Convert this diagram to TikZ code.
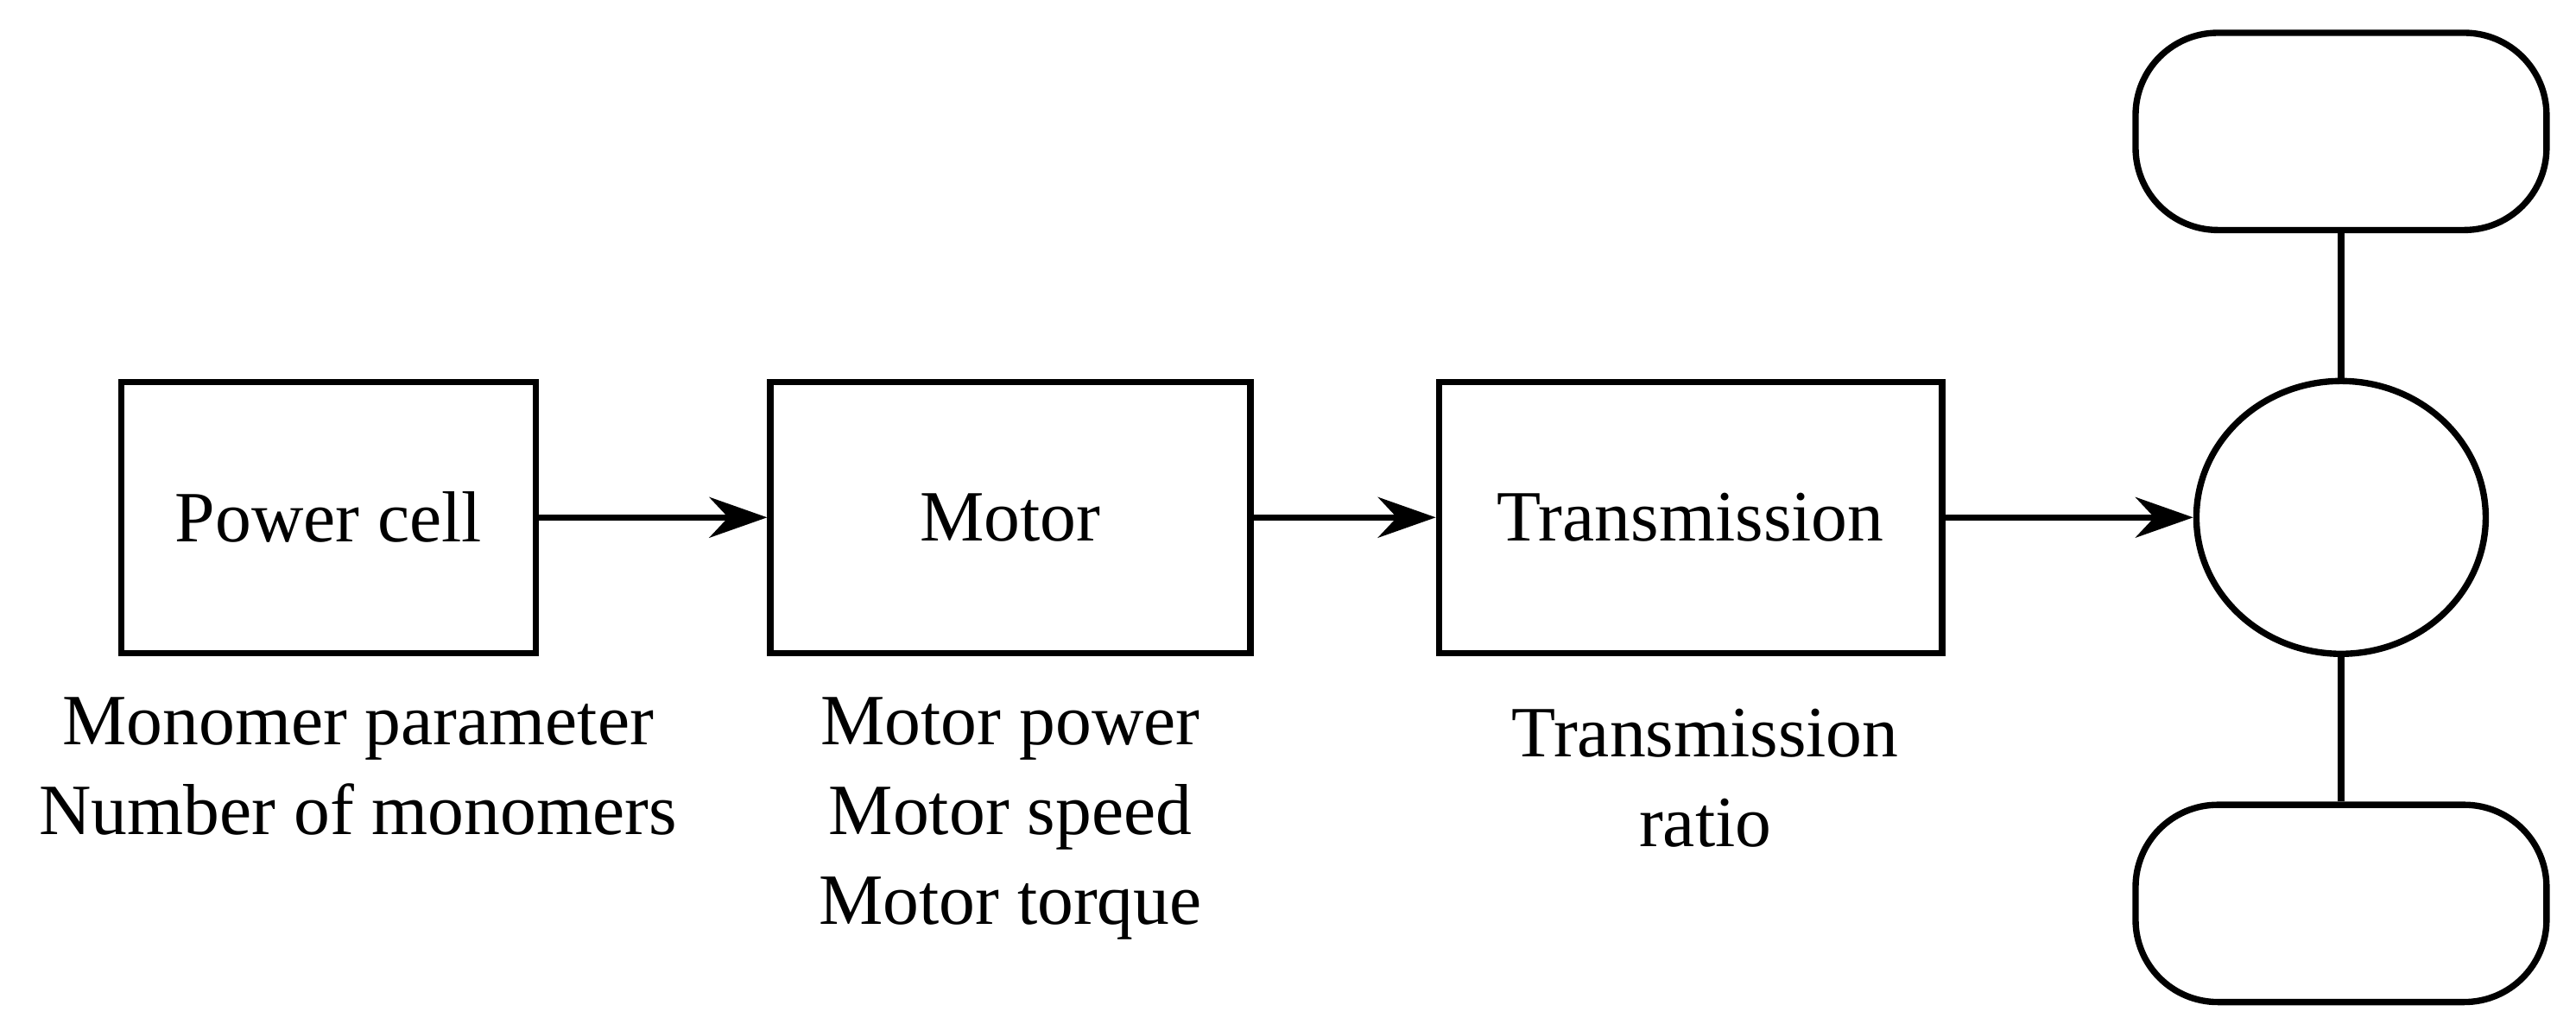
\documentclass[tikz,border=0pt]{standalone}
\usepackage{fontspec}
\setmainfont{Liberation Serif}
\usetikzlibrary{arrows.meta,shapes.geometric}
\begin{document}
\begin{tikzpicture}[x=0.01cm,y=-0.01cm,
  box/.style={draw,line width=1.1pt,minimum width=2.52cm,minimum height=1.65cm,inner sep=0pt},
  lbl/.style={font=\fontsize{12.5}{15.6}\selectfont,align=center},
  arr/.style={line width=1.1pt,-{Stealth[length=10pt,width=7pt]}},
  ln/.style={line width=1.1pt}]
\useasboundingbox (0,0) rectangle (1568,623);
\node[box,lbl] (pc) at (200,315) {Power cell};
\node[box,lbl,minimum width=2.92cm] (mo) at (615,315) {Motor};
\node[box,lbl,minimum width=3.06cm] (tr) at (1029,315) {Transmission};
\node[draw,line width=1.1pt,ellipse,minimum width=1.76cm,minimum height=1.66cm,inner sep=0pt] (wh) at (1425,315) {};
\node[draw,line width=1.1pt,rounded corners=0.5cm,minimum width=2.5cm,minimum height=1.2cm] (tw) at (1425,80) {};
\node[draw,line width=1.1pt,rounded corners=0.5cm,minimum width=2.5cm,minimum height=1.2cm] (bw) at (1425,550) {};
\draw[arr] (pc) -- (mo);
\draw[arr] (mo) -- (tr);
\draw[arr] (tr) -- (wh);
\draw[ln] (wh) -- (tw);
\draw[ln] (wh) -- (bw);
\node[lbl,anchor=north] (l1) at (218,412) {Monomer parameter\\Number of monomers};
\node[lbl,anchor=north] (l2) at (615,412) {Motor power\\Motor speed\\Motor torque};
\node[lbl,anchor=north] (l3) at (1038,419) {Transmission\\ratio};
\end{tikzpicture}
\end{document}
